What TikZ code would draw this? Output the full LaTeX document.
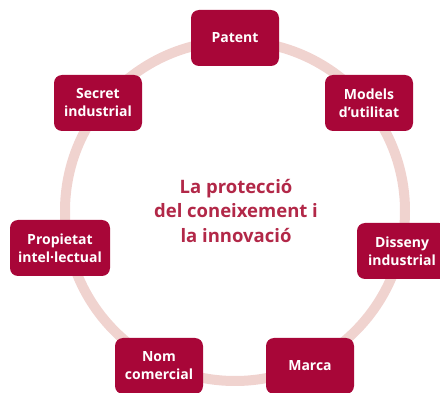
\documentclass[tikz,border=0pt]{standalone}
\usepackage{fontspec}
\setmainfont{Open Sans}
\definecolor{boxred}{HTML}{A80638}
\definecolor{ringpink}{HTML}{F0D3CF}
\definecolor{titlered}{HTML}{B22848}
\begin{document}
\begin{tikzpicture}[x=1pt,y=-1pt,
  item/.style={fill=boxred, rounded corners=8pt, text=white, font=\bfseries\fontsize{14}{18}\selectfont,
    align=center, minimum width=88pt, minimum height=56pt, inner sep=2pt},
  ring/.style={draw=ringpink, line width=10pt}]
\useasboundingbox (0,0) rectangle (440,393);
\coordinate (c) at (235,211);
\draw[ring] (c) circle (170);
\node[item] (patent) at (235,38) {Patent};
\node[item] (models) at (369,103) {Models\\d’utilitat};
\node[item, minimum width=90pt] (disseny) at (402,251) {Disseny\\industrial};
\node[item] (marca) at (310,366) {Marca};
\node[item] (nom) at (159,366) {Nom\\comercial};
\node[item, minimum width=100pt] (prop) at (60,248) {Propietat\\intel·lectual};
\node[item] (secret) at (98,103) {Secret\\industrial};
\node[text=titlered, font=\fontsize{18.5}{24.5}\selectfont\bfseries, align=center] (title) at (236,211)
  {La protecció\\del coneixement i\\la innovació};
\end{tikzpicture}
\end{document}
